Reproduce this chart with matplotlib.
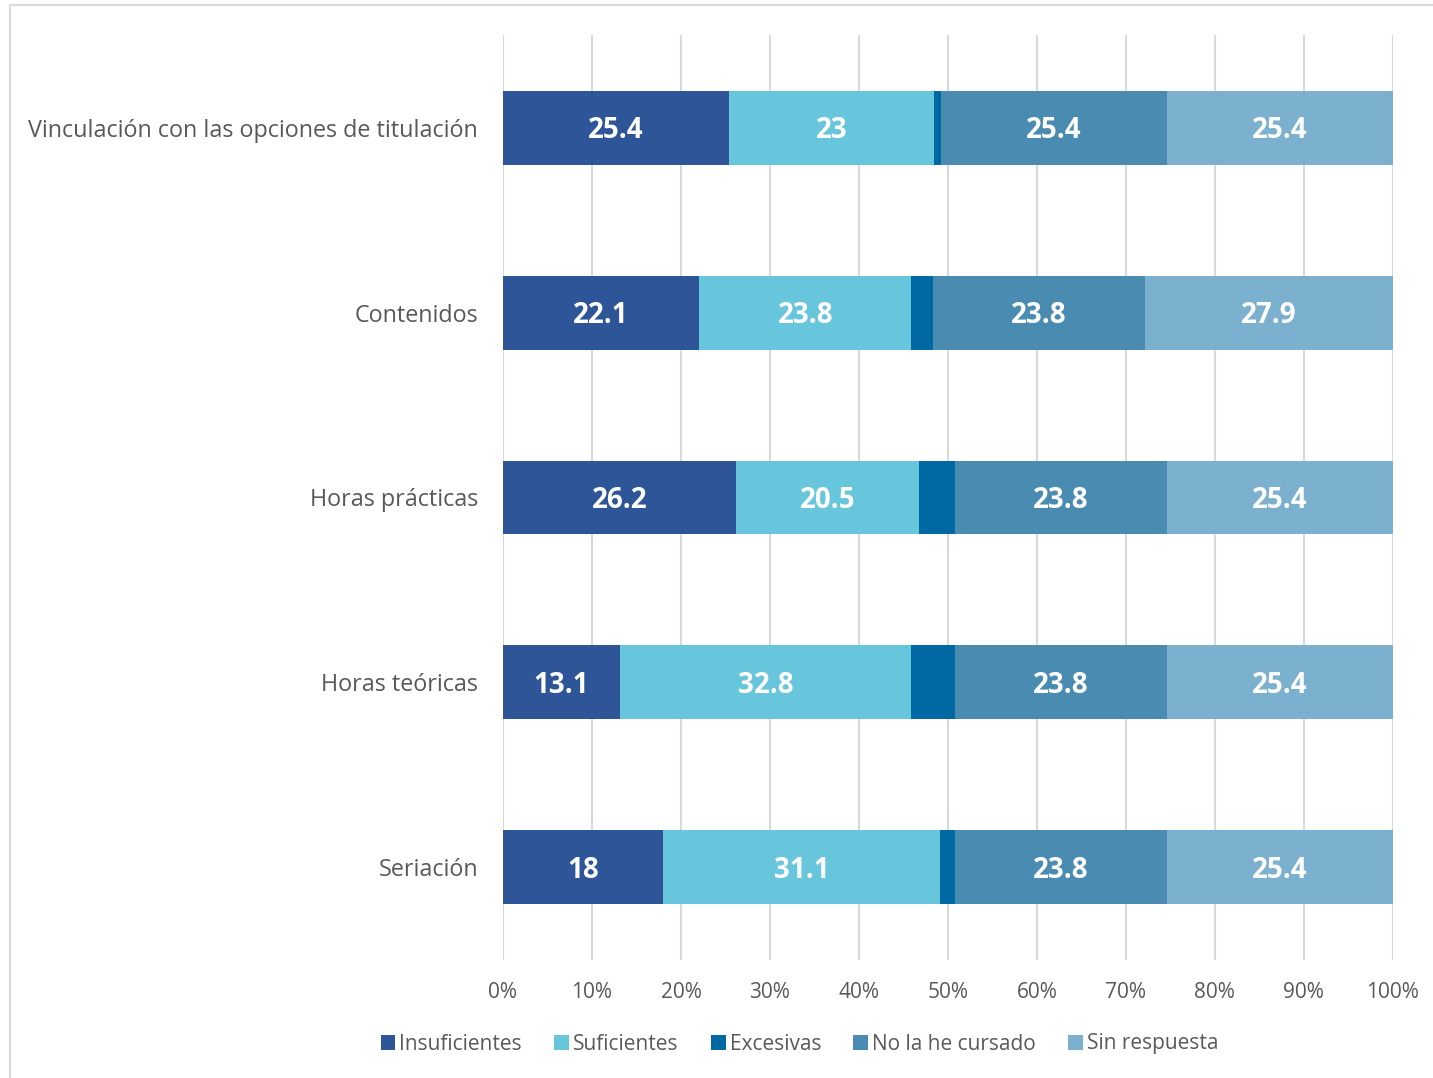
import numpy as np
import matplotlib
matplotlib.use("Agg")
import matplotlib.pyplot as plt
from matplotlib.patches import Rectangle

plt.rcParams['font.family'] = ['Open Sans', 'DejaVu Sans']

# Categories, top to bottom as shown
categories = ["Vinculación con las opciones de titulación", "Contenidos",
              "Horas prácticas", "Horas teóricas", "Seriación"]
series_names = ["Insuficientes", "Suficientes", "Excesivas",
                "No la he cursado", "Sin respuesta"]
insuficientes = [25.4, 22.1, 26.2, 13.1, 18]
suficientes = [23, 23.8, 20.5, 32.8, 31.1]
excesivas = [0.8, 2.5, 4.1, 4.9, 1.6]
no_cursado = [25.4, 23.8, 23.8, 23.8, 23.8]
sin_respuesta = [25.4, 27.9, 25.4, 25.4, 25.4]
colors = ["#2E5597", "#67C6DC", "#0068A3", "#4A8BB2", "#7BB0CE"]
show_labels = [True, True, False, True, True]

data = np.array([insuficientes, suficientes, excesivas, no_cursado, sin_respuesta])
pct = data / data.sum(axis=0) * 100

fig = plt.figure(figsize=(14.33, 10.78), dpi=100)
ax = fig.add_axes([0.351, 0.1095, 0.621, 0.858])

# outer chart border
fig.patches.append(Rectangle((10 / 1433, -0.01), 1.1, 1 - 5 / 1078 + 0.01,
                             transform=fig.transFigure, fill=False,
                             edgecolor="#D9D9D9", linewidth=1.5))

y = np.arange(len(categories))
left = np.zeros(len(categories))
for i, name in enumerate(series_names):
    bars = ax.barh(y, pct[i], left=left, height=0.4, color=colors[i],
                   label=name, zorder=3)
    if show_labels[i]:
        for j, b in enumerate(bars):
            ax.text(left[j] + pct[i][j] / 2, y[j] + 0.015, f"{data[i][j]:g}",
                    ha="center", va="center", color="white",
                    fontsize=20, fontweight="bold", zorder=4)
    left += pct[i]

ax.set_xlim(0, 100)
ax.set_ylim(len(categories) - 0.5, -0.5)
ax.set_yticks(y)
ax.set_yticklabels(categories, fontsize=16.8, color="#595959")
ax.set_xticks(np.arange(0, 101, 10))
ax.set_xticklabels([f"{v}%" for v in range(0, 101, 10)], fontsize=15,
                   color="#595959")
ax.tick_params(length=0)
ax.tick_params(axis="y", pad=18)
ax.tick_params(axis="x", pad=16)
for s in ax.spines.values():
    s.set_visible(False)
ax.grid(axis="x", color="#D9D9D9", linewidth=1.5, zorder=0)
ax.set_axisbelow(True)

leg = fig.legend(loc="center", bbox_to_anchor=(0.558, 1 - 1044 / 1078),
                 ncol=5, frameon=False, fontsize=15, handlelength=0.7,
                 handleheight=0.7, handletextpad=0.2, columnspacing=1.55)
for t in leg.get_texts():
    t.set_color("#595959")

fig.savefig("out.png", dpi=100)
